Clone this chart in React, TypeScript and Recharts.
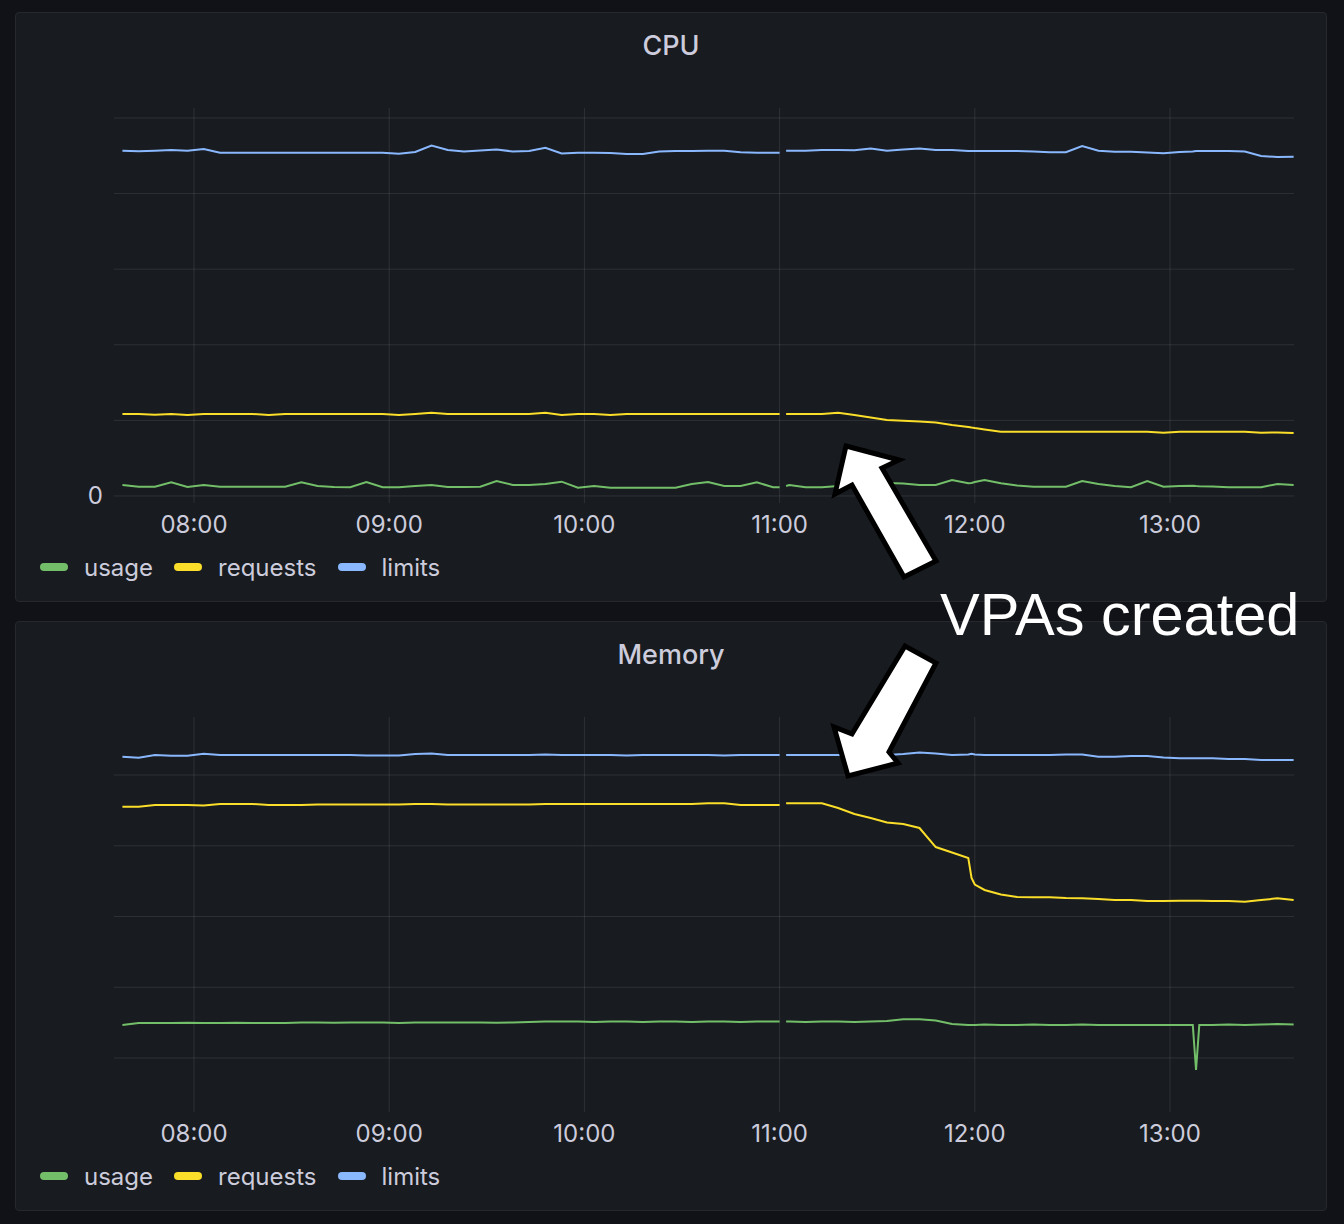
import { LineChart, Line, XAxis, YAxis, CartesianGrid } from 'recharts';

// sample times (HH:MM), shared by both panels
const times = [
  '07:38', '07:43', '07:48', '07:53', '07:58', '08:03', '08:08', '08:13', '08:18', '08:23',
  '08:28', '08:33', '08:38', '08:43', '08:48', '08:53', '08:58', '09:03', '09:08', '09:13',
  '09:18', '09:23', '09:28', '09:33', '09:38', '09:43', '09:48', '09:53', '09:58', '10:03',
  '10:08', '10:13', '10:18', '10:23', '10:28', '10:33', '10:38', '10:43', '10:48', '10:53',
  '10:58', '11:00', '11:01', '11:02', '11:03', '11:08', '11:13', '11:18', '11:23', '11:28',
  '11:33', '11:38', '11:43', '11:48', '11:53', '11:58', '11:59', '12:00', '12:03', '12:08',
  '12:13', '12:18', '12:23', '12:28', '12:33', '12:38', '12:43', '12:48', '12:53', '12:58',
  '13:03', '13:07', '13:08', '13:09', '13:13', '13:18', '13:23', '13:28', '13:33', '13:38',
];

const hourTicks = [8, 9, 10, 11, 12, 13];

// CPU (cores)
const cpuUsage = [
  0.146, 0.123, 0.123, 0.181, 0.119, 0.146, 0.123, 0.123, 0.123, 0.123,
  0.123, 0.181, 0.132, 0.119, 0.115, 0.185, 0.115, 0.115, 0.132, 0.146,
  0.119, 0.119, 0.123, 0.198, 0.146, 0.146, 0.159, 0.189, 0.110, 0.132,
  0.110, 0.110, 0.110, 0.110, 0.110, 0.159, 0.185, 0.132, 0.132, 0.181,
  0.115, 0.115, null, 0.132, 0.146, 0.115, 0.115, 0.132, 0.146, 0.159,
  0.172, 0.165, 0.146, 0.146, 0.212, 0.168, 0.172, 0.185, 0.212, 0.168,
  0.139, 0.123, 0.123, 0.123, 0.198, 0.159, 0.132, 0.115, 0.198, 0.123,
  0.132, 0.135, 0.132, 0.130, 0.126, 0.115, 0.115, 0.115, 0.159, 0.146,
];
const cpuRequests = [
  1.085, 1.085, 1.074, 1.085, 1.071, 1.085, 1.085, 1.085, 1.085, 1.071,
  1.085, 1.085, 1.085, 1.085, 1.085, 1.085, 1.085, 1.071, 1.085, 1.102,
  1.085, 1.085, 1.085, 1.085, 1.085, 1.085, 1.102, 1.071, 1.085, 1.085,
  1.071, 1.085, 1.085, 1.085, 1.085, 1.085, 1.085, 1.085, 1.085, 1.085,
  1.085, 1.085, null, 1.085, 1.085, 1.085, 1.085, 1.102, 1.071, 1.038,
  1.005, 0.996, 0.985, 0.972, 0.939, 0.913, 0.905, 0.898, 0.880, 0.851,
  0.851, 0.851, 0.851, 0.851, 0.851, 0.851, 0.851, 0.851, 0.851, 0.837,
  0.851, 0.851, 0.851, 0.851, 0.851, 0.851, 0.851, 0.837, 0.840, 0.833,
];
const cpuLimits = [
  4.567, 4.559, 4.567, 4.578, 4.567, 4.590, 4.541, 4.541, 4.541, 4.541,
  4.541, 4.541, 4.541, 4.541, 4.541, 4.541, 4.541, 4.528, 4.550, 4.634,
  4.577, 4.557, 4.570, 4.583, 4.557, 4.563, 4.607, 4.530, 4.541, 4.541,
  4.537, 4.524, 4.524, 4.557, 4.563, 4.563, 4.567, 4.567, 4.546, 4.541,
  4.541, 4.541, null, 4.567, 4.567, 4.567, 4.577, 4.577, 4.572, 4.597,
  4.567, 4.583, 4.597, 4.577, 4.577, 4.563, 4.563, 4.563, 4.563, 4.563,
  4.563, 4.557, 4.546, 4.546, 4.630, 4.567, 4.554, 4.554, 4.544, 4.533,
  4.550, 4.557, 4.563, 4.563, 4.563, 4.563, 4.557, 4.497, 4.484, 4.488,
];

// Memory (GiB)
const memUsage = [
  1.466, 1.495, 1.495, 1.495, 1.499, 1.495, 1.495, 1.499, 1.495, 1.495,
  1.495, 1.502, 1.502, 1.499, 1.502, 1.502, 1.502, 1.495, 1.502, 1.502,
  1.502, 1.502, 1.502, 1.499, 1.502, 1.509, 1.516, 1.516, 1.516, 1.509,
  1.516, 1.516, 1.509, 1.516, 1.516, 1.509, 1.516, 1.516, 1.509, 1.516,
  1.516, 1.516, null, 1.516, 1.516, 1.509, 1.516, 1.516, 1.509, 1.516,
  1.523, 1.547, 1.547, 1.530, 1.481, 1.466, 1.466, 1.466, 1.473, 1.466,
  1.466, 1.473, 1.466, 1.466, 1.473, 1.466, 1.466, 1.466, 1.466, 1.466,
  1.466, 1.466, 0.830, 1.466, 1.466, 1.473, 1.466, 1.473, 1.481, 1.473,
];
const memRequests = [
  4.552, 4.552, 4.576, 4.576, 4.576, 4.569, 4.590, 4.590, 4.590, 4.576,
  4.576, 4.576, 4.583, 4.583, 4.583, 4.583, 4.583, 4.583, 4.590, 4.590,
  4.583, 4.583, 4.583, 4.583, 4.583, 4.583, 4.590, 4.590, 4.590, 4.590,
  4.590, 4.590, 4.590, 4.590, 4.590, 4.590, 4.600, 4.600, 4.576, 4.576,
  4.576, 4.576, null, 4.600, 4.600, 4.600, 4.600, 4.533, 4.449, 4.392,
  4.329, 4.307, 4.251, 3.982, 3.905, 3.827, 3.544, 3.452, 3.375, 3.311,
  3.276, 3.271, 3.271, 3.261, 3.257, 3.247, 3.233, 3.233, 3.219, 3.219,
  3.223, 3.223, 3.223, 3.223, 3.219, 3.219, 3.209, 3.233, 3.257, 3.233,
];
const memLimits = [
  5.259, 5.245, 5.283, 5.273, 5.273, 5.301, 5.283, 5.283, 5.283, 5.283,
  5.283, 5.283, 5.283, 5.283, 5.283, 5.276, 5.276, 5.276, 5.297, 5.304,
  5.283, 5.283, 5.283, 5.283, 5.283, 5.283, 5.290, 5.283, 5.283, 5.283,
  5.283, 5.276, 5.283, 5.283, 5.283, 5.283, 5.283, 5.276, 5.283, 5.283,
  5.283, 5.283, null, 5.283, 5.283, 5.283, 5.283, 5.283, 5.276, 5.283,
  5.283, 5.297, 5.318, 5.304, 5.283, 5.290, 5.300, 5.290, 5.283, 5.283,
  5.283, 5.283, 5.283, 5.290, 5.290, 5.259, 5.259, 5.269, 5.269, 5.247,
  5.236, 5.236, 5.236, 5.236, 5.236, 5.226, 5.226, 5.212, 5.212, 5.212,
];

const FONT = 'Inter, "Noto Sans", sans-serif';
const TEXT = '#ccccdc';
const GRID = 'rgba(204,204,220,0.12)';

const SERIES = [
  { key: 'usage', label: 'usage', color: '#73bf69' },
  { key: 'requests', label: 'requests', color: '#fade2a' },
  { key: 'limits', label: 'limits', color: '#8ab8ff' },
];

const toHours = (s: string) => {
  const [h, m] = s.split(':').map(Number);
  return h + m / 60;
};

const buildRows = (usage: (number | null)[], requests: (number | null)[], limits: (number | null)[]) =>
  times.map((t, i) => ({ t: toHours(t), usage: usage[i], requests: requests[i], limits: limits[i] }));

const fmtHour = (v: number) => `${String(v).padStart(2, '0')}:00`;

interface PanelProps {
  title: string;
  top: number;
  rows: ReturnType<typeof buildRows>;
  yDomain: [number, number];
  yTicks: number[];
  yFormat: (v: number) => string;
}

const Panel = ({ title, top, rows, yDomain, yTicks, yFormat }: PanelProps) => {
  return (
    <>
      <div
        style={{
          position: 'absolute', left: 15, top, width: 1312, height: 590,
          background: '#181b1f', border: '1px solid #26282d', borderRadius: 4, boxSizing: 'border-box',
        }}
      />
      <div
        style={{
          position: 'absolute', left: 15, top: top + 18, width: 1312, lineHeight: '32px', textAlign: 'center',
          fontFamily: FONT, fontSize: 27, fontWeight: 500, color: TEXT,
        }}
      >
        {title}
      </div>
      <div style={{ position: 'absolute', left: 0, top }}>
        <LineChart width={1344} height={591} data={rows} margin={{ top: 96, right: 50, bottom: 60, left: 0 }}>
          <CartesianGrid stroke={GRID} syncWithTicks />
          <XAxis
            type="number"
            dataKey="t"
            domain={[7.5902, 13.6352]}
            ticks={hourTicks}
            tickFormatter={fmtHour}
            axisLine={false}
            tickLine={false}
            tickMargin={7}
            height={40}
            allowDataOverflow
            tick={{ fill: TEXT, fontSize: 24, fontFamily: FONT }}
          />
          <YAxis
            type="number"
            domain={yDomain}
            ticks={yTicks}
            tickFormatter={yFormat}
            width={114}
            axisLine={false}
            tickLine={false}
            tickMargin={5}
            allowDataOverflow
            tick={{ fill: TEXT, fontSize: 24, fontFamily: FONT }}
          />
          {SERIES.map((s) => (
            <Line
              key={s.key}
              type="linear"
              dataKey={s.key}
              stroke={s.color}
              strokeWidth={2}
              dot={false}
              activeDot={false}
              connectNulls={false}
              isAnimationActive={false}
            />
          ))}
        </LineChart>
      </div>
      <div
        style={{
          position: 'absolute', left: 40, top: top + 539, height: 32, display: 'flex', alignItems: 'center',
          fontFamily: FONT, fontSize: 24, color: TEXT,
        }}
      >
        {SERIES.map((s) => (
          <div key={s.key} style={{ display: 'flex', alignItems: 'center', marginRight: 21 }}>
            <span style={{ width: 28, height: 8, borderRadius: 4, background: s.color, marginRight: 16 }} />
            <span>{s.label}</span>
          </div>
        ))}
      </div>
    </>
  );
};

const App = () => {
  const cpuRows = buildRows(cpuUsage, cpuRequests, cpuLimits);
  const memRows = buildRows(memUsage, memRequests, memLimits);
  return (
    <div style={{ position: 'absolute', left: 0, top: 0, width: 1344, height: 1224, background: '#111217', overflow: 'hidden' }}>
      <Panel
        title="CPU"
        top={12}
        rows={cpuRows}
        yDomain={[-0.093, 5.132]}
        yTicks={[0, 1, 2, 3, 4, 5]}
        yFormat={(v) => (v === 0 ? '0' : '')}
      />
      <Panel
        title="Memory"
        top={621}
        rows={memRows}
        yDomain={[0.237, 5.82]}
        yTicks={[1, 2, 3, 4, 5]}
        yFormat={() => ''}
      />
      {/* annotation overlay */}
      <svg width={1344} height={1224} style={{ position: 'absolute', left: 0, top: 0, pointerEvents: 'none' }}>
        <polygon
          points="846,446 899,460 882,468 936,561 904,577 852,485 835,494"
          fill="#ffffff"
          stroke="#000000"
          strokeWidth={5}
          strokeLinejoin="miter"
        />
        <polygon
          points="848,776 834,727 852,734 905,646 936,663 889,752 898,763"
          fill="#ffffff"
          stroke="#000000"
          strokeWidth={5}
          strokeLinejoin="miter"
        />
        <text x={940} y={635} fill="#ffffff" fontSize={59.5} fontFamily='"Liberation Sans", Arial, sans-serif'>
          VPAs created
        </text>
      </svg>
    </div>
  );
};

export default App;
